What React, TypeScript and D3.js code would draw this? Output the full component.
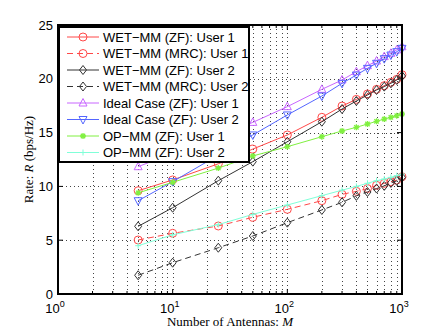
import React from "react";
import * as d3 from "d3";

// antennas (x axis, log scale)
const antennas = [5, 10, 25, 50, 100, 200, 300, 400, 500, 600, 700, 800, 900, 1000];

// rates, bps/Hz
const wetZfU1 = [9.6, 10.6, 12.1, 13.47, 14.78, 16.42, 17.47, 18.09, 18.59, 19.02, 19.36, 19.67, 19.95, 20.38];
const wetMrcU1 = [5.02, 5.64, 6.32, 7.13, 7.87, 8.67, 9.26, 9.54, 9.8, 10.1, 10.28, 10.44, 10.59, 10.9];
const wetZfU2 = [6.29, 8.02, 10.53, 12.3, 14.15, 16.01, 17.19, 17.94, 18.49, 18.96, 19.27, 19.58, 19.89, 20.26];
const wetMrcU2 = [1.74, 2.91, 4.3, 5.39, 6.63, 7.81, 8.52, 9.12, 9.48, 9.8, 10.05, 10.32, 10.52, 10.84];
const idealU1 = [11.83, 13.1, 14.65, 15.95, 17.41, 19.02, 19.89, 20.66, 21.22, 21.65, 22.06, 22.37, 22.68, 22.98];
const idealU2 = [8.67, 10.44, 12.9, 14.78, 16.64, 18.4, 19.58, 20.35, 20.97, 21.44, 21.87, 22.21, 22.52, 22.83];
const opU1 = [9.4, 10.38, 11.7, 12.83, 13.69, 14.62, 15.15, 15.49, 15.8, 16.05, 16.26, 16.42, 16.57, 16.73];
const opU2 = [4.49, 5.5, 6.45, 7.4, 8.27, 9.14, 9.65, 10.0, 10.29, 10.53, 10.69, 10.84, 11.0, 11.15];

const legendLabels = [
  "WET\u2212MM (ZF): User 1",
  "WET\u2212MM (MRC): User 1",
  "WET\u2212MM (ZF): User 2",
  "WET\u2212MM (MRC): User 2",
  "Ideal Case (ZF): User 1",
  "Ideal Case (ZF): User 2",
  "OP\u2212MM (ZF): User 1",
  "OP\u2212MM (ZF): User 2",
];

const yTicks = [0, 5, 10, 15, 20, 25];
const xDecades = [1, 10, 100, 1000];
const xExponents = ["0", "1", "2", "3"];

type Marker = "circle" | "diamond" | "up" | "down" | "star" | "plus";

const series = [
  { values: wetZfU1, color: "#ff4848", dashed: false, marker: "circle" as Marker },
  { values: wetMrcU1, color: "#ff4848", dashed: true, marker: "circle" as Marker },
  { values: wetZfU2, color: "#333333", dashed: false, marker: "diamond" as Marker },
  { values: wetMrcU2, color: "#333333", dashed: true, marker: "diamond" as Marker },
  { values: idealU1, color: "#c866ff", dashed: false, marker: "up" as Marker },
  { values: idealU2, color: "#5466ff", dashed: false, marker: "down" as Marker },
  { values: opU1, color: "#80f040", dashed: false, marker: "star" as Marker },
  { values: opU2, color: "#80ffd8", dashed: false, marker: "plus" as Marker },
];

const W = 444;
const H = 332;
const left = 58;
const right = 402;
const top = 25;
const bottom = 294;

function MarkerShape({ kind, x, y, color }: { kind: Marker; x: number; y: number; color: string }) {
  const p = { fill: "none", stroke: color, strokeWidth: 1 };
  if (kind === "circle") return <circle cx={x} cy={y} r={4} {...p} />;
  if (kind === "diamond")
    return <path d={`M${x},${y - 4.5}L${x + 3.5},${y}L${x},${y + 4.5}L${x - 3.5},${y}Z`} {...p} />;
  if (kind === "up")
    return <path d={`M${x},${y - 4.5}L${x + 4},${y + 3}L${x - 4},${y + 3}Z`} {...p} />;
  if (kind === "down")
    return <path d={`M${x},${y + 4.5}L${x + 4},${y - 3}L${x - 4},${y - 3}Z`} {...p} />;
  if (kind === "star")
    return (
      <path
        d={`M${x - 3},${y}H${x + 3}M${x},${y - 3}V${y + 3}M${x - 2.2},${y - 2.2}L${x + 2.2},${y + 2.2}M${x - 2.2},${y + 2.2}L${x + 2.2},${y - 2.2}`}
        {...p}
        strokeWidth={1.3}
      />
    );
  return <path d={`M${x - 3},${y}H${x + 3}M${x},${y - 3}V${y + 3}`} {...p} />;
}

export default function App() {
  const x = d3.scaleLog().domain([1, 1000]).range([left, right]);
  const y = d3.scaleLinear().domain([0, 25]).range([bottom, top]);

  const line = d3
    .line<number>()
    .x((d, i) => x(antennas[i]))
    .y((d) => y(d));

  // log minor positions for the dotted grid
  const minorX: number[] = [];
  [1, 10, 100].forEach((d) => {
    for (let k = 2; k <= 9; k++) minorX.push(k * d);
  });
  const gridX = minorX.concat([10, 100]);

  const tickFont = "'Liberation Sans', Arial, sans-serif";
  const labelFont = "'Liberation Serif', 'Times New Roman', serif";

  const legX = 59;
  const legY = 27;
  const legW = 190;
  const legH = 135;
  const rowH = 16.5;

  return (
    <svg width={W} height={H} style={{ position: "absolute", left: 0, top: 0, background: "#fff" }}>
      <rect x={0} y={0} width={W} height={H} fill="#fff" />

      {/* dotted grid */}
      <g stroke="#444" strokeWidth={1} strokeDasharray="1,3">
        {gridX.map((v) => (
          <line key={"gx" + v} x1={Math.round(x(v)) + 0.5} x2={Math.round(x(v)) + 0.5} y1={top} y2={bottom} />
        ))}
        {yTicks.slice(1, -1).map((v) => (
          <line key={"gy" + v} x1={left} x2={right} y1={Math.round(y(v)) + 0.5} y2={Math.round(y(v)) + 0.5} />
        ))}
      </g>

      {/* ticks */}
      <g stroke="#000" strokeWidth={1}>
        {yTicks.map((v) => (
          <g key={"ty" + v}>
            <line x1={left} x2={left + 5} y1={y(v)} y2={y(v)} />
            <line x1={right} x2={right - 5} y1={y(v)} y2={y(v)} />
          </g>
        ))}
        {xDecades.map((v) => (
          <g key={"tx" + v}>
            <line x1={x(v)} x2={x(v)} y1={bottom} y2={bottom - 5} />
            <line x1={x(v)} x2={x(v)} y1={top} y2={top + 5} />
          </g>
        ))}
        {minorX.map((v) => (
          <g key={"mx" + v}>
            <line x1={x(v)} x2={x(v)} y1={bottom} y2={bottom - 3} />
            <line x1={x(v)} x2={x(v)} y1={top} y2={top + 3} />
          </g>
        ))}
      </g>

      {/* series */}
      {series.map((s, si) => (
        <g key={"s" + si}>
          <path
            d={line(s.values) || ""}
            fill="none"
            stroke={s.color}
            strokeWidth={1}
            strokeDasharray={s.dashed ? "6,4" : undefined}
          />
          {s.values.map((v, i) => (
            <MarkerShape key={i} kind={s.marker} x={x(antennas[i])} y={y(v)} color={s.color} />
          ))}
        </g>
      ))}

      {/* axes box */}
      <rect x={left} y={top} width={right - left} height={bottom - top} fill="none" stroke="#000" strokeWidth={2} />

      {/* tick labels */}
      <g fontFamily={tickFont} fontSize={13} fill="#000">
        {yTicks.map((v) => (
          <text key={"ly" + v} x={left - 5} y={y(v) + 4.5} textAnchor="end">
            {v}
          </text>
        ))}
        {xDecades.map((v, i) => (
          <text key={"lx" + v} x={x(v) - 3} y={313} textAnchor="middle">
            10
            <tspan fontSize={9} dy={-6}>
              {xExponents[i]}
            </tspan>
          </text>
        ))}
      </g>

      {/* axis labels */}
      <text x={(left + right) / 2} y={326} textAnchor="middle" fontFamily={labelFont} fontSize={13}>
        Number of Antennas: <tspan fontStyle="italic">M</tspan>
      </text>
      <text
        transform={`translate(33,${(top + bottom) / 2}) rotate(-90)`}
        textAnchor="middle"
        fontFamily={labelFont}
        fontSize={13}
      >
        Rate: <tspan fontStyle="italic">R</tspan> (bps/Hz)
      </text>

      {/* legend */}
      <rect x={legX} y={legY} width={legW} height={legH} fill="#fff" stroke="#000" strokeWidth={2} />
      {series.map((s, i) => {
        const cy = legY + 10 + i * rowH;
        return (
          <g key={"lg" + i}>
            <line
              x1={67}
              x2={99}
              y1={cy}
              y2={cy}
              stroke={s.color}
              strokeWidth={1}
              strokeDasharray={s.dashed ? "6,4" : undefined}
            />
            <MarkerShape kind={s.marker} x={83} y={cy} color={s.color} />
            <text x={103} y={cy + 4.5} fontFamily={tickFont} fontSize={13}>
              {legendLabels[i]}
            </text>
          </g>
        );
      })}
    </svg>
  );
}
